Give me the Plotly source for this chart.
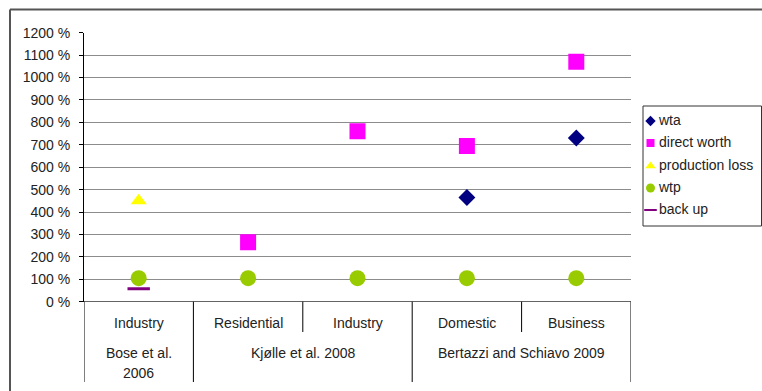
import plotly.graph_objects as go

# ---- data ----
categories = ["Industry", "Residential", "Industry", "Domestic", "Business"]
groups = ["Bose et al.\n2006", "Kjølle et al. 2008", "Bertazzi and Schiavo 2009"]
group_sizes = [1, 2, 2]

wta = [None, None, None, 465, 730]
direct_worth = [None, 265, 760, 695, 1070]
production_loss = [450, None, None, None, None]
wtp = [105, 105, 105, 105, 105]
back_up = [58, None, None, None, None]

y_ticks = list(range(0, 1201, 100))

# ---- styling ----
FONT = "Liberation Sans, Arial, sans-serif"
FS = 14
TXT = "#222"
WIDTH, HEIGHT = 762, 391
series = [
    ("wta", wta, dict(symbol="diamond", size=13, color="#000080"), dict(symbol="diamond", size=8, color="#000080")),
    ("direct worth", direct_worth, dict(symbol="square", size=16, color="#FF00FF"), dict(symbol="square", size=8, color="#FF00FF")),
    ("production loss", production_loss, dict(symbol="triangle-up", size=14, color="#FFFF00"), dict(symbol="triangle-up", size=9, color="#FFFF00")),
    ("wtp", wtp, dict(symbol="circle", size=16, color="#99CC00"), dict(symbol="circle", size=9, color="#99CC00")),
    ("back up", back_up, dict(symbol="line-ew", size=16, color="#800080", line=dict(width=3, color="#800080")),
     dict(symbol="line-ew", size=9, color="#800080", line=dict(width=2, color="#800080"))),
]

# pixel helpers (whole figure = paper)
def px(p):
    return p / WIDTH
def py(p):
    return (HEIGHT - p) / HEIGHT

PL, PR, PT, PB = 84, 631, 32.7, 301.7      # plot area
LL, LR, LT, LB = 643, 761.5, 106, 226       # legend box

xs = list(range(len(categories)))
fig = go.Figure()
for name, vals, mk, lmk in series:
    fig.add_trace(go.Scatter(x=xs, y=vals, mode="markers", marker=mk, name=name,
                             showlegend=False, hoverinfo="y"))

# custom legend drawn on an auxiliary pixel-scaled axis
leg_rows = [15, 37, 60, 82, 104]
for (name, vals, mk, lmk), ry in zip(series, leg_rows):
    fig.add_trace(go.Scatter(x=[7.5], y=[ry], mode="markers", marker=lmk, xaxis="x2", yaxis="y2",
                             showlegend=False, hoverinfo="skip"))
    fig.add_trace(go.Scatter(x=[16], y=[ry], mode="text", text=[name], textposition="middle right",
                             textfont=dict(family=FONT, size=FS, color=TXT), xaxis="x2", yaxis="y2",
                             showlegend=False, hoverinfo="skip"))

shapes = []
annotations = []
for i, c in enumerate(categories):
    annotations.append(dict(x=i, y=py(323), xref="x", yref="paper", text=c, showarrow=False,
                            font=dict(family=FONT, size=FS, color=TXT), xanchor="center", yanchor="middle"))
bounds = [0]
for s in group_sizes:
    bounds.append(bounds[-1] + s)
for b in range(len(categories) + 1):
    full = b in bounds
    shapes.append(dict(type="line", xref="x", yref="paper", x0=b - 0.5, x1=b - 0.5,
                       y0=py(PB), y1=py(382) if full else py(332),
                       line=dict(color="#000", width=1)))
for g, name in enumerate(groups):
    center = (bounds[g] + bounds[g + 1] - 1) / 2
    lines = name.split("\n")
    ys = [353] if len(lines) == 1 else [353, 373]
    for ln, yy in zip(lines, ys):
        annotations.append(dict(x=center, y=py(yy), xref="x", yref="paper", text=ln, showarrow=False,
                                font=dict(family=FONT, size=FS, color=TXT), xanchor="center", yanchor="middle"))

# outer chart border (top & left)
shapes.append(dict(type="line", xref="paper", yref="paper", x0=px(10), x1=px(780), y0=py(9.5), y1=py(9.5),
                   line=dict(color="#555", width=2)))
shapes.append(dict(type="line", xref="paper", yref="paper", x0=px(10), x1=px(10), y0=py(9.5), y1=py(400),
                   line=dict(color="#555", width=2)))
# x axis line at 0
shapes.append(dict(type="line", xref="x domain", yref="y", x0=0, x1=1, y0=0, y1=0, line=dict(color="#000", width=1)))
# legend box
shapes.append(dict(type="rect", xref="paper", yref="paper", x0=px(LL), x1=px(LR), y0=py(LB), y1=py(LT),
                   line=dict(color="#333", width=1), fillcolor="rgba(0,0,0,0)", layer="below"))

fig.update_layout(
    width=WIDTH, height=HEIGHT,
    margin=dict(l=0, r=0, t=0, b=0, autoexpand=False),
    paper_bgcolor="white", plot_bgcolor="white",
    font=dict(family=FONT, size=FS, color=TXT),
    shapes=shapes, annotations=annotations,
    showlegend=False,
    xaxis=dict(domain=[px(PL), px(PR)], range=[-0.5, len(categories) - 0.5], showticklabels=False,
               showgrid=False, zeroline=False, showline=False, ticks=""),
    yaxis=dict(domain=[py(PB), py(PT)], range=[0, 1200], tickvals=y_ticks,
               ticktext=[f"{v} %" for v in y_ticks],
               showgrid=True, gridcolor="#8c8c8c", gridwidth=1, zeroline=False,
               showline=True, linecolor="#000", linewidth=1,
               ticks="outside", ticklen=4, tickcolor="#000", ticklabelstandoff=6,
               tickfont=dict(family=FONT, size=FS, color=TXT)),
    xaxis2=dict(domain=[px(LL), px(LR)], range=[0, LR - LL], visible=False, fixedrange=True),
    yaxis2=dict(domain=[py(LB), py(LT)], range=[LB - LT, 0], visible=False, fixedrange=True, anchor="x2"),
)

fig.write_html("out.html")
